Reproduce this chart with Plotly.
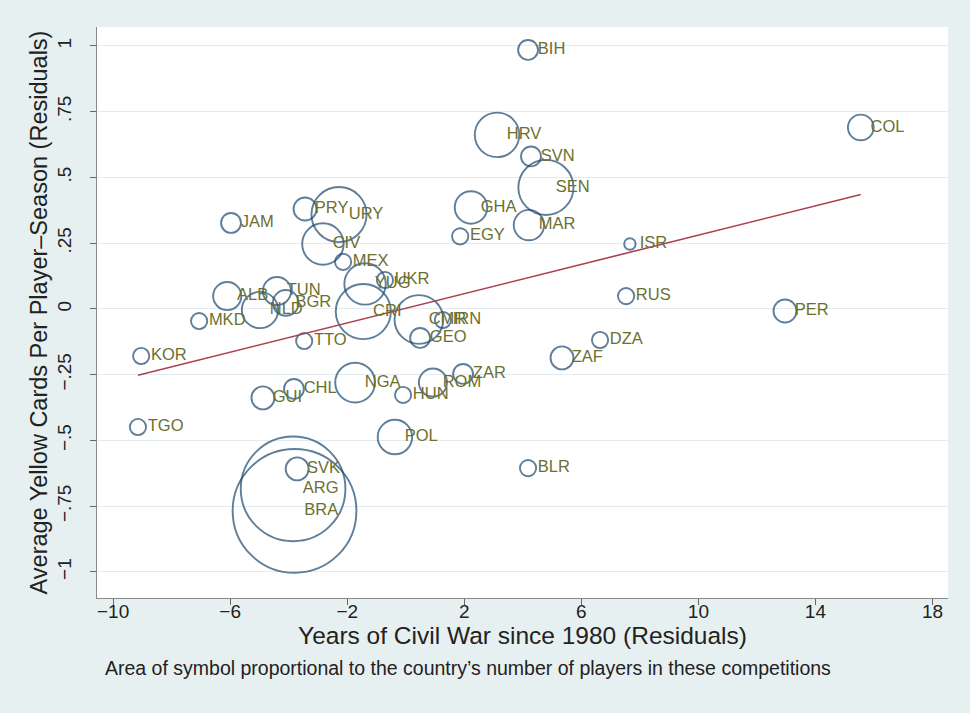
import plotly.graph_objects as go

# Country codes and their residual values
countries = ['BIH', 'HRV', 'COL', 'SVN', 'SEN', 'GHA', 'MAR', 'EGY', 'ISR', 'JAM',
             'PRY', 'URY', 'CIV', 'MEX', 'YUG', 'UKR', 'ALB', 'TUN', 'NLD', 'BGR',
             'CRI', 'CMR', 'IRN', 'GEO', 'RUS', 'PER', 'DZA', 'ZAF', 'MKD', 'KOR',
             'TTO', 'ZAR', 'ROM', 'HUN', 'NGA', 'CHL', 'GUI', 'POL', 'TGO', 'SVK',
             'ARG', 'BRA', 'BLR']

civil_war = [4.18, 3.12, 15.55, 4.28, 4.79, 2.23, 4.21, 1.86, 7.66, -5.97,
             -3.44, -2.28, -2.83, -2.14, -1.39, -0.71, -6.10, -4.40, -4.98, -4.10,
             -1.45, 0.45, 1.27, 0.49, 7.53, 12.96, 6.64, 5.34, -7.06, -9.04,
             -3.47, 1.96, 0.93, -0.09, -1.73, -3.82, -4.88, -0.37, -9.15, -3.71,
             -3.85, -3.80, 4.18]

yellow_cards = [0.985, 0.662, 0.690, 0.580, 0.462, 0.386, 0.319, 0.276, 0.247, 0.327,
                0.380, 0.359, 0.247, 0.179, 0.095, 0.110, 0.049, 0.068, -0.004, 0.023,
                -0.010, -0.040, -0.042, -0.110, 0.049, -0.008, -0.118, -0.186, -0.046, -0.179,
                -0.122, -0.247, -0.280, -0.327, -0.280, -0.304, -0.338, -0.487, -0.449, -0.608,
                -0.684, -0.768, -0.605]

# number of players per country (symbol area is proportional to it)
players = [3, 15, 5, 3, 23, 8, 7, 2, 1, 3,
           4, 23, 13, 2, 13, 2, 6, 6, 10, 5,
           23, 18, 2, 3, 2, 4, 2, 4, 2, 2,
           2, 3, 6, 2, 12, 3, 4, 9, 2, 4,
           83, 116, 2]

# fitted line end points
fit_x = [-9.15, 15.55]
fit_y = [-0.252, 0.435]

x_ticks = [-10, -6, -2, 2, 6, 10, 14, 18]
x_tick_text = ['\u221210', '\u22126', '\u22122', '2', '6', '10', '14', '18']
y_ticks = [-1, -0.75, -0.5, -0.25, 0, 0.25, 0.5, 0.75, 1]
y_tick_text = ['\u22121', '\u2212.75', '\u2212.5', '\u2212.25', '0', '.25', '.5', '.75', '1']

NAVY = '#1a476f'
MAROON = '#a8434e'
LABEL = '#6b7030'
BG = '#e7f0f1'
GRID = '#e2ebee'
FONT = 'Liberation Sans, Arial, sans-serif'

fig = go.Figure()

# hollow bubbles
fig.add_trace(go.Scatter(
    x=civil_war, y=yellow_cards, mode='markers',
    marker=dict(symbol='circle-open', size=players, sizemode='area', sizeref=1 / 66,
                color=NAVY, line=dict(width=1.9, color=NAVY)),
    hoverinfo='skip'
))

# linear fit
fig.add_trace(go.Scatter(
    x=fit_x, y=fit_y, mode='lines',
    line=dict(color=MAROON, width=1.6),
    hoverinfo='skip'
))

# country labels, a fixed gap right of each centre
fig.add_trace(go.Scatter(
    x=civil_war, y=yellow_cards, mode='markers+text', text=countries,
    textposition='middle right',
    marker=dict(size=14, color='rgba(0,0,0,0)'),
    textfont=dict(family=FONT, size=16.5, color=LABEL),
    hoverinfo='skip'
))

fig.update_xaxes(
    range=[-10.55, 18.53], tickvals=x_ticks, ticktext=x_tick_text,
    ticks='outside', ticklen=6, tickcolor='#666', tickfont=dict(size=19),
    ticklabelstandoff=-10,
    showline=True, linecolor='#8a8a8a', linewidth=1,
    showgrid=False, zeroline=False,
    title=dict(text='Years of Civil War since 1980 (Residuals)', font=dict(size=24.5), standoff=0)
)
fig.update_yaxes(
    range=[-1.099, 1.072], tickvals=y_ticks, ticktext=y_tick_text, tickangle=-90,
    ticks='outside', ticklen=6, tickcolor='#666', tickfont=dict(size=19),
    ticklabelstandoff=11,
    showline=True, linecolor='#8a8a8a', linewidth=1,
    showgrid=True, gridcolor=GRID, gridwidth=1, zeroline=False,
    title=dict(text='Average Yellow Cards Per Player\u2013Season (Residuals)', font=dict(size=23.5), standoff=0)
)

fig.add_annotation(
    text="Area of symbol proportional to the country\u2019s number of players in these competitions",
    xref='paper', yref='paper', x=0.007, y=-0.1226, xanchor='left', yanchor='middle',
    showarrow=False, font=dict(size=19.5, color='#222')
)

fig.update_layout(
    width=970, height=713,
    margin=dict(l=97, r=22, t=27, b=115),
    paper_bgcolor=BG, plot_bgcolor='white',
    showlegend=False,
    font=dict(family=FONT, color='#222')
)

fig.write_html("out.html", config={'displayModeBar': False},
               post_script="document.body.style.margin='0';")
